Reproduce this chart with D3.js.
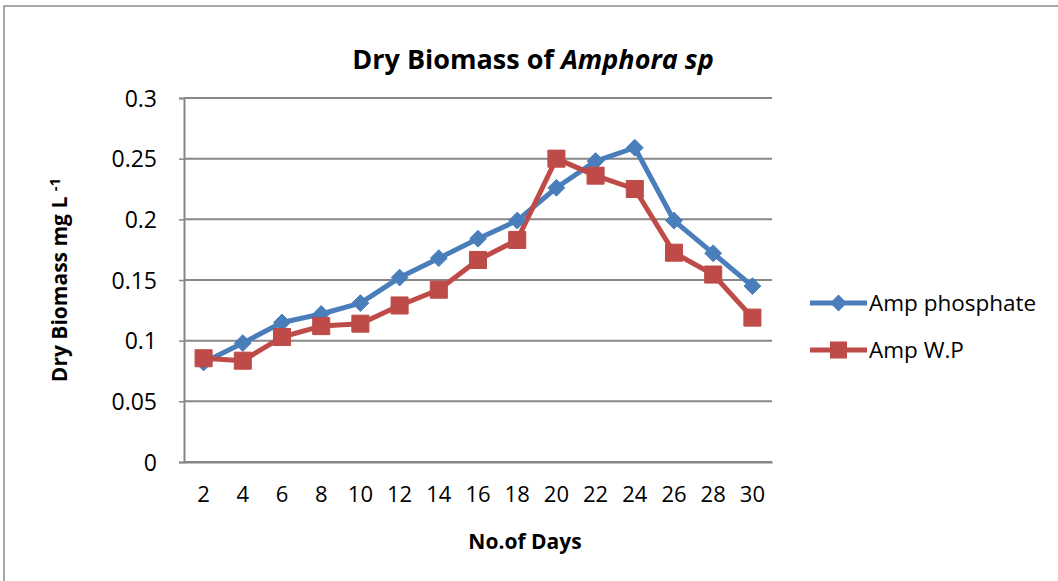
<!DOCTYPE html>
<html>
<head>
<meta charset="utf-8">
<script src="https://cdn.jsdelivr.net/npm/d3@7"></script>
<style>
  body { margin: 0; background: #fff; }
  text { font-family: "Open Sans", "Liberation Sans", sans-serif; fill: #000; }
</style>
</head>
<body>
<div id="grafica"></div>
<script>
// data
var days = ["2","4","6","8","10","12","14","16","18","20","22","24","26","28","30"];
var ampPhosphate = [0.082,0.098,0.115,0.122,0.131,0.152,0.168,0.184,0.199,0.226,0.248,0.259,0.199,0.172,0.145];
var ampWP = [0.0855,0.0835,0.103,0.112,0.114,0.129,0.142,0.1665,0.183,0.250,0.236,0.225,0.1725,0.1545,0.119];
var yTicks = [0,0.05,0.1,0.15,0.2,0.25,0.3];
var seriesNames = ["Amp phosphate","Amp W.P"];

var W = 1058, H = 581;
var margin = {top: 98, left: 184, right: W - 772, bottom: H - 462};
var width = W - margin.left - margin.right,
    height = H - margin.top - margin.bottom;

var svg = d3.select("#grafica").append("svg")
    .attr("width", W)
    .attr("height", H);

// outer chart border (right/bottom fall outside the picture)
svg.append("rect")
    .attr("x", 4).attr("y", 6)
    .attr("width", W + 10).attr("height", H + 10)
    .attr("fill", "none")
    .attr("stroke", "#8c8c8c")
    .attr("stroke-width", 1.5);

var g = svg.append("g")
    .attr("transform", "translate(" + margin.left + "," + margin.top + ")");

var x = d3.scaleBand().domain(days).range([0, width]);
var y = d3.scaleLinear().domain([0, 0.3]).range([height, 0]);

// gridlines
g.append("g")
    .selectAll("line")
    .data(yTicks)
    .enter().append("line")
    .attr("x1", 0).attr("x2", width)
    .attr("y1", function(d) { return y(d); })
    .attr("y2", function(d) { return y(d); })
    .attr("stroke", "#878787")
    .attr("stroke-width", 2);

// y axis
var yAxis = g.append("g")
    .call(d3.axisLeft(y).tickValues(yTicks).tickSize(5).tickPadding(22)
      .tickFormat(function(d) { return d3.format("")(+d.toFixed(2)); }));
yAxis.select(".domain").attr("stroke", "#878787").attr("stroke-width", 2);
yAxis.selectAll(".tick line").attr("stroke", "#878787").attr("stroke-width", 1.5);
yAxis.selectAll(".tick text")
    .style("font-size", "23px")
    .attr("dy", "0.36em");

// x axis
var xAxis = g.append("g")
    .attr("transform", "translate(0," + height + ")")
    .call(d3.axisBottom(x).tickSize(0).tickPadding(24));
xAxis.select(".domain").attr("stroke", "#878787").attr("stroke-width", 2);
xAxis.selectAll(".tick text").style("font-size", "22px");

// title
var title = svg.append("text")
    .attr("x", 533).attr("y", 69)
    .attr("text-anchor", "middle")
    .style("font-size", "27px")
    .style("font-weight", "bold");
title.append("tspan").text("Dry Biomass of ");
title.append("tspan").style("font-style", "italic").text("Amphora sp");

// axis titles
svg.append("text")
    .attr("x", 525).attr("y", 549)
    .attr("text-anchor", "middle")
    .style("font-size", "21px")
    .style("font-weight", "bold")
    .text("No.of Days");

var ylab = svg.append("text")
    .attr("transform", "translate(67,280) rotate(-90)")
    .attr("text-anchor", "middle")
    .style("font-size", "21px")
    .style("font-weight", "bold");
ylab.append("tspan").text("Dry Biomass mg L ");
ylab.append("tspan").attr("dy", "-0.45em").style("font-size", "15px").text("-1");

var colors = ["#4a7ebb", "#be4b48"];
var allData = [ampPhosphate, ampWP];

var lineFunction = d3.line()
    .x(function(d, i) { return x(days[i]) + x.bandwidth() / 2; })
    .y(function(d) { return y(d); });

allData.forEach(function(vals, k) {
  g.append("path")
    .datum(vals)
    .attr("fill", "none")
    .attr("stroke", colors[k])
    .attr("stroke-width", 5)
    .attr("stroke-linejoin", "round")
    .attr("d", lineFunction);
});

// markers
var sym = [d3.symbolDiamond2, d3.symbolSquare2];
var symSize = [180, 370];
allData.forEach(function(vals, k) {
  g.selectAll(".m" + k)
    .data(vals)
    .enter().append("path")
    .attr("class", "m" + k)
    .attr("transform", function(d, i) {
      return "translate(" + (x(days[i]) + x.bandwidth() / 2) + "," + y(d) + ")";
    })
    .attr("d", d3.symbol().type(sym[k]).size(symSize[k]))
    .attr("fill", colors[k])
    .attr("stroke", colors[k])
    .attr("stroke-width", 1);
});

// legend
var leg = svg.append("g");
seriesNames.forEach(function(name, k) {
  var ly = 303 + k * 47;
  leg.append("line")
    .attr("x1", 810).attr("x2", 867)
    .attr("y1", ly).attr("y2", ly)
    .attr("stroke", colors[k])
    .attr("stroke-width", 5);
  leg.append("path")
    .attr("transform", "translate(838.5," + ly + ")")
    .attr("d", d3.symbol().type(sym[k]).size(symSize[k]))
    .attr("fill", colors[k]);
  leg.append("text")
    .attr("x", 869).attr("y", ly)
    .attr("dy", "0.36em")
    .style("font-size", "22.5px")
    .text(name);
});
</script>
</body>
</html>
